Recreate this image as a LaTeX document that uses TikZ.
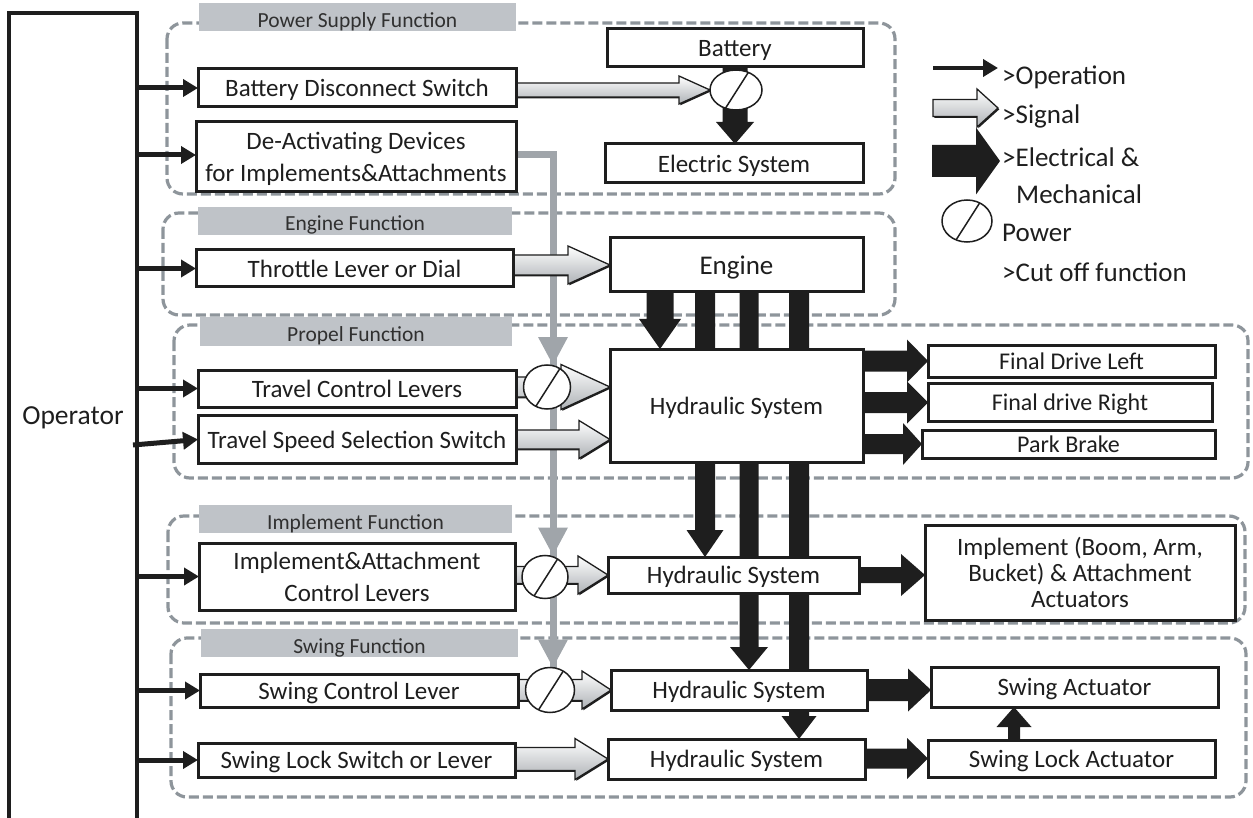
\documentclass[tikz,border=0pt]{standalone}
\usepackage{fontspec}
\setmainfont{Carlito}
\usetikzlibrary{arrows.meta,calc,shapes.geometric}

\definecolor{ink}{HTML}{1E1E1E}
\definecolor{grpline}{HTML}{8E959B}
\definecolor{lblfill}{HTML}{BFC3C8}
\definecolor{lbltxt}{HTML}{303030}
\definecolor{gline}{HTML}{A0A5AA}
\definecolor{sigdark}{HTML}{AEB2B6}

\pgfdeclarelayer{background}
\pgfsetlayers{background,main}

% horizontal block arrow: style, from, to, shaft half-height, head half-height, head length
\newcommand\harrow[6]{%
  \path[#1] let \p1=(#2), \p2=(#3) in
    (\x1,\y2+#4) -- (\x2-#6,\y2+#4) -- (\x2-#6,\y2+#5) -- (\x2,\y2)
    -- (\x2-#6,\y2-#5) -- (\x2-#6,\y2-#4) -- (\x1,\y2-#4) -- cycle;}
% downward block arrow
\newcommand\darrow[6]{%
  \path[#1] let \p1=(#2), \p2=(#3) in
    (\x1-#4,\y1) -- (\x1-#4,\y2+#6) -- (\x1-#5,\y2+#6) -- (\x1,\y2)
    -- (\x1+#5,\y2+#6) -- (\x1+#4,\y2+#6) -- (\x1+#4,\y1) -- cycle;}
% upward block arrow
\newcommand\uarrow[6]{%
  \path[#1] let \p1=(#2), \p2=(#3) in
    (\x1-#4,\y1) -- (\x1-#4,\y2-#6) -- (\x1-#5,\y2-#6) -- (\x1,\y2)
    -- (\x1+#5,\y2-#6) -- (\x1+#4,\y2-#6) -- (\x1+#4,\y1) -- cycle;}
% shaded signal arrow with a small dark shadow
\newcommand\sigarrow[5]{%
  \harrow{sigshade}{#1}{#2}{#3}{#4}{#5}%
  \harrow{sig}{#1}{#2}{#3}{#4}{#5}}
% grey tip on the de-activation line
\newcommand\gtip[1]{%
  \path[fill=gline] let \p1=(#1) in
    (\x1,\y1) -- (\x1-15pt,\y1+28pt) -- (\x1+15pt,\y1+28pt) -- cycle;}
% function group title bar
\newcommand\grplabel[5]{%
  \node[lbl, minimum width=#4pt] (#1) at (#2,#3) {};
  \begin{scope}
    \clip (#1.south west) rectangle (#1.north east);
    \node[lbltext, anchor=base] (#1t) at ($(#1.south)+(0,-4)$) {#5};
  \end{scope}}
% cut-off switch symbol
\newcommand\cutoff[5]{% name, x, y, width, height
  \node[cut, minimum width=#4pt, minimum height=#5pt] (#1) at (#2,#3) {};
  \draw[slash] (#1.-120) -- (#1.55);}

\begin{document}
\begin{tikzpicture}[x=1pt,y=-1pt,
  box/.style={draw=ink, line width=3pt, fill=white, inner sep=2pt, outer sep=0pt,
    text=ink, align=center, text depth=0pt, font=\fontsize{25}{26}\selectfont},
  twoline/.style={font=\fontsize{25}{32}\selectfont},
  small/.style={font=\fontsize{24}{26}\selectfont},
  grp/.style={draw=grpline, line width=3.2pt, dash pattern=on 10pt off 4pt, rounded corners=16pt},
  lbl/.style={fill=lblfill, inner sep=0pt, outer sep=0pt, minimum height=28pt},
  lbltext/.style={text=lbltxt, inner sep=0pt, font=\fontsize{21.5}{24}\selectfont},
  gl/.style={draw=gline, line width=7pt},
  pwr/.style={fill=ink},
  sig/.style={draw=ink, line width=1.3pt, top color=white, bottom color=sigdark, line join=miter},
  sigshade/.style={fill=ink, transform canvas={shift={(1.3pt,-1.3pt)}}},
  cut/.style={ellipse, draw=ink, line width=1.5pt, fill=white, inner sep=0pt, outer sep=0pt},
  slash/.style={draw=ink, line width=1.5pt},
  op/.style={draw=ink, line width=5pt, -{Triangle[length=15pt,width=17pt]}},
  operline/.style={draw=ink, line width=3.5pt},
  bigtext/.style={text=ink, inner sep=0pt, font=\fontsize{27}{30}\selectfont}]

\useasboundingbox (0,0) rectangle (1253,818);

% ---- blocks ----
\node[box, minimum width=318pt, minimum height=38pt] (bds) at (357,88) {Battery Disconnect Switch};
\node[box, twoline, minimum width=320pt, minimum height=70pt] (deact) at (356,157) {De-Activating Devices\\for Implements\&Attachments};
\node[box, minimum width=256pt, minimum height=38pt] (battery) at (735,48) {Battery};
\node[box, minimum width=258pt, minimum height=39pt] (elec) at (734,163.5) {Electric System};
\node[box, minimum width=317pt, minimum height=37pt] (throttle) at (354.5,268.5) {Throttle Lever or Dial};
\node[box, minimum width=253pt, minimum height=54pt, font=\fontsize{27}{30}\selectfont] (eng) at (736.5,265) {Engine};
\node[box, minimum width=318pt, minimum height=37pt] (tcl) at (357,388.5) {Travel Control Levers};
\node[box, minimum width=318pt, minimum height=48pt] (tss) at (357,439.5) {Travel Speed Selection Switch};
\node[box, minimum width=253pt, minimum height=113pt] (hydP) at (736.5,405.5) {Hydraulic System};
\node[box, small, minimum width=287pt, minimum height=32pt] (fdl) at (1071.5,361) {Final Drive Left};
\node[box, small, minimum width=284pt, minimum height=38pt] (fdr) at (1070,402.5) {Final drive Right};
\node[box, small, minimum width=293pt, minimum height=28pt] (pb) at (1068.5,444) {Park Brake};
\node[box, twoline, minimum width=316pt, minimum height=67pt] (iac) at (357,576.5) {Implement\&Attachment\\Control Levers};
\node[box, minimum width=251pt, minimum height=36pt] (hydI) at (733.5,575) {Hydraulic System};
\node[box, minimum width=310pt, minimum height=95pt] (impact) at (1080,572.5) {Implement (Boom, Arm,\\Bucket) \& Attachment\\Actuators};
\node[box, minimum width=318pt, minimum height=33pt] (scl) at (359,690.5) {Swing Control Lever};
\node[box, minimum width=317pt, minimum height=34pt] (ssl) at (356.5,760) {Swing Lock Switch or Lever};
\node[box, minimum width=256pt, minimum height=40pt] (hydS) at (739,690) {Hydraulic System};
\node[box, minimum width=257pt, minimum height=40pt] (hydL) at (736.5,759) {Hydraulic System};
\node[box, minimum width=287pt, minimum height=40pt] (sact) at (1074.5,687) {Swing Actuator};
\node[box, minimum width=287pt, minimum height=37pt] (slact) at (1071.5,758.5) {Swing Lock Actuator};

% ---- cut-off switches ----
\cutoff{cPS}{736}{90}{52}{40}
\cutoff{cP}{547}{387}{47}{44}
\cutoff{cI}{545}{577}{46}{43}
\cutoff{cS}{550}{690}{49}{45}

% ---- operator ----
\coordinate (opTL) at (9,13);
\coordinate (opTR) at (137,13);
\coordinate (opBL) at (9,818);
\coordinate (opBR) at (137,818);
\draw[operline] (opBL) -- (opTL) -- (opTR) -- (opBR);
\node[bigtext, font=\fontsize{27.5}{30}\selectfont] (operator) at (73,418) {Operator};

% operation
\coordinate (opx) at (137,0);
\coordinate (tssIn) at (133,445);
\draw[op] (opx |- bds.west) -- (bds.west);
\draw[op] (opx |- 0,155) -- (deact.west |- 0,155);
\draw[op] (opx |- throttle.west) -- (throttle.west);
\draw[op] (opx |- tcl.west) -- (tcl.west);
\draw[op] (tssIn) -- (tss.west);
\draw[op] (opx |- iac.west) -- (iac.west);
\draw[op] (opx |- scl.west) -- (scl.west);
\draw[op] (opx |- ssl.west) -- (ssl.west);

\begin{pgfonlayer}{background}
% ---- function groups ----
\draw[grp] (167,23) rectangle (895,194);
\draw[grp] (163,213) rectangle (895,315);
\draw[grp] (174,325) rectangle (1248,478);
\draw[grp] (168,516) rectangle (1245,623);
\draw[grp] (171,638) rectangle (1246,797);

\grplabel{lPS}{357.5}{17.5}{317}{Power Supply Function}
\grplabel{lEN}{355}{221}{314}{Engine Function}
\grplabel{lPR}{356}{331.5}{312}{Propel Function}
\grplabel{lIM}{355.5}{519}{313}{Implement Function}
\grplabel{lSW}{359.5}{643}{317}{Swing Function}

% ---- de-activation line ----
\coordinate (gx) at (553,0);
\draw[gl] (deact.east |- 0,155) -- (gx |- 0,155) -- (gx |- cS);
\gtip{gx |- cP.north}
\gtip{gx |- cI.north}
\gtip{gx |- cS.north}

% ---- electrical & mechanical power ----
\coordinate (b1) at (660,0);
\coordinate (b2) at (705,0);
\coordinate (b3) at (749,0);
\coordinate (b4) at (799,0);
\coordinate (ua) at (1014,0);
\darrow{pwr}{battery.south}{elec.north}{12.5pt}{19pt}{22pt}
\darrow{pwr}{b1 |- eng.south}{b1 |- hydP.north}{13.5pt}{21pt}{30pt}
\darrow{pwr}{b2 |- eng.south}{b2 |- hydI.north}{10pt}{18.5pt}{27pt}
\darrow{pwr}{b3 |- eng.south}{b3 |- hydS.north}{9.5pt}{19pt}{23pt}
\darrow{pwr}{b4 |- eng.south}{b4 |- hydL.north}{10pt}{17.5pt}{23pt}
\harrow{pwr}{hydP.east}{fdl.west}{10.5pt}{21.5pt}{21pt}
\harrow{pwr}{hydP.east}{fdr.west}{10.5pt}{21pt}{21pt}
\harrow{pwr}{hydP.east}{pb.west}{10pt}{21pt}{19pt}
\harrow{pwr}{hydI.east}{impact.west |- hydI}{8pt}{21pt}{24pt}
\harrow{pwr}{hydS.east}{sact.west |- hydS}{11pt}{21.5pt}{23pt}
\harrow{pwr}{hydL.east}{slact.west}{10pt}{20.5pt}{21pt}
\uarrow{pwr}{ua |- slact.north}{ua |- sact.south}{6pt}{17.5pt}{20pt}

% ---- signals ----
\sigarrow{bds.east}{cPS.west}{7pt}{14pt}{31pt}
\sigarrow{throttle.east}{eng.west}{10pt}{19pt}{42pt}
\sigarrow{tcl.east}{cP -| hydP.west}{10pt}{22.5pt}{49pt}
\sigarrow{tss.east}{hydP.west |- tss}{9.5pt}{19pt}{31pt}
\sigarrow{iac.east}{hydI.west}{8.5pt}{19pt}{30pt}
\sigarrow{scl.east}{hydS.west}{10.5pt}{19pt}{29pt}
\sigarrow{ssl.east}{hydL.west}{11.5pt}{20.5pt}{33pt}
\end{pgfonlayer}

% ---- legend ----
\coordinate (lgO1) at (933,68);
\coordinate (lgO2) at (998,68);
\coordinate (lgS1) at (933,108);
\coordinate (lgS2) at (998,108);
\coordinate (lgP1) at (932,161);
\coordinate (lgP2) at (1000,161);
\draw[op, line width=4.5pt] (lgO1) -- (lgO2);
\sigarrow{lgS1}{lgS2}{8.5pt}{19pt}{21pt}
\harrow{pwr}{lgP1}{lgP2}{16pt}{33.5pt}{24pt}
\cutoff{lgC}{967}{221}{50}{42}
\node[bigtext, anchor=west] (lgT1) at (1002,77) {>Operation};
\node[bigtext, anchor=west] (lgT2) at (1002,116) {>Signal};
\node[bigtext, anchor=west] (lgT3) at (1002,157) {>Electrical \&};
\node[bigtext, anchor=west] (lgT4) at (1016,194) {Mechanical};
\node[bigtext, anchor=west] (lgT5) at (1002,233) {Power};
\node[bigtext, anchor=west] (lgT6) at (1002,272) {>Cut off function};
\end{tikzpicture}
\end{document}
